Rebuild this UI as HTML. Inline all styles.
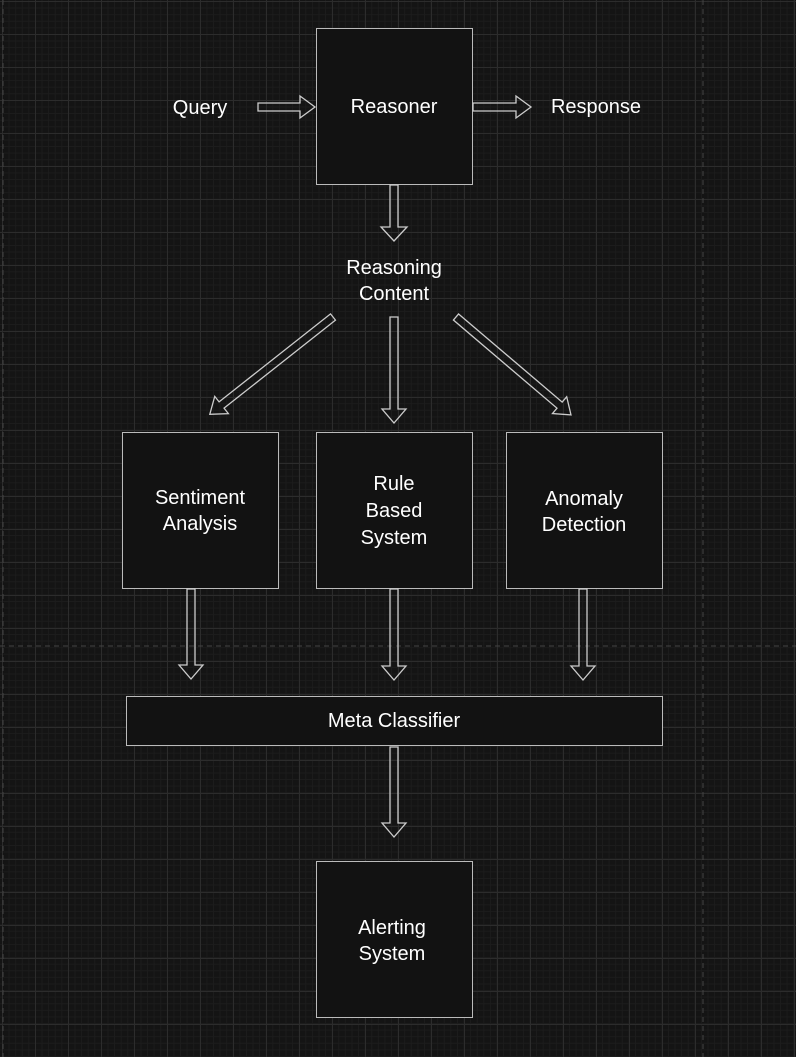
<!DOCTYPE html>
<html><head><meta charset="utf-8"><style>
html,body{margin:0;padding:0}
body{width:796px;height:1057px;overflow:hidden;background:#141414;position:relative;
background-image:
linear-gradient(#2c2c2c 1px,transparent 1px),
linear-gradient(90deg,#2c2c2c 1px,transparent 1px),
linear-gradient(#1c1c1c 1px,transparent 1px),
linear-gradient(90deg,#1c1c1c 1px,transparent 1px);
background-size:33px 33px,33px 33px,6.6px 6.6px,6.6px 6.6px;
background-position:2px 1px,2px 1px,2px 1px,2px 1px;
font-family:"Comic Sans MS","Liberation Sans",sans-serif;color:#fff}
.box{position:absolute;background:#121212;border:1px solid #bbb;box-sizing:border-box}
.t{position:absolute;font-size:20px;text-align:center;line-height:26px;color:#fff;transform:translateX(-50%);white-space:nowrap}
svg{position:absolute;left:0;top:0}
</style></head><body>
<svg width="796" height="1057">
<line x1="3" y1="0" x2="3" y2="1057" stroke="#444" stroke-dasharray="5,4"/>
<line x1="703" y1="0" x2="703" y2="1057" stroke="#444" stroke-dasharray="5,4"/>
<line x1="0" y1="646" x2="796" y2="646" stroke="#444" stroke-dasharray="5,4"/>
</svg>
<div class="box" style="left:316px;top:28px;width:157px;height:157px"></div>
<div class="box" style="left:122px;top:432px;width:157px;height:157px"></div>
<div class="box" style="left:316px;top:432px;width:157px;height:157px"></div>
<div class="box" style="left:506px;top:432px;width:157px;height:157px"></div>
<div class="box" style="left:126px;top:696px;width:537px;height:50px"></div>
<div class="box" style="left:316px;top:861px;width:157px;height:157px"></div>
<svg width="796" height="1057">
<g fill="none" stroke="#ccc" stroke-width="1.3">
<g transform="translate(258,107)"><polygon points="0,-4 42,-4 42,-11 57,0 42,11 42,4 0,4"/></g>
<g transform="translate(473,107)"><polygon points="0,-4 43,-4 43,-11 58,0 43,11 43,4 0,4"/></g>
<g transform="translate(394,185) rotate(90)"><polygon points="0,-4 42,-4 42,-13 56,0 42,13 42,4 0,4"/></g>
<g transform="translate(333,317) rotate(141.7)"><polygon points="0,-4 142,-4 142,-11 157,0 142,11 142,4 0,4"/></g>
<g transform="translate(394,317) rotate(90)"><polygon points="0,-4 92,-4 92,-12 106,0 92,12 92,4 0,4"/></g>
<g transform="translate(456,317) rotate(40.4)"><polygon points="0,-4 136,-4 136,-11 151,0 136,11 136,4 0,4"/></g>
<g transform="translate(191,589) rotate(90)"><polygon points="0,-4 76,-4 76,-12 90,0 76,12 76,4 0,4"/></g>
<g transform="translate(394,589) rotate(90)"><polygon points="0,-4 77,-4 77,-12 91,0 77,12 77,4 0,4"/></g>
<g transform="translate(583,589) rotate(90)"><polygon points="0,-4 77,-4 77,-12 91,0 77,12 77,4 0,4"/></g>
<g transform="translate(394,747) rotate(90)"><polygon points="0,-4 76,-4 76,-12 90,0 76,12 76,4 0,4"/></g>
</g></svg>
<div class="t" style="left:200px;top:95px">Query</div>
<div class="t" style="left:394px;top:94px">Reasoner</div>
<div class="t" style="left:596px;top:94px">Response</div>
<div class="t" style="left:394px;top:255px">Reasoning<br>Content</div>
<div class="t" style="left:200px;top:485px">Sentiment<br>Analysis</div>
<div class="t" style="left:394px;top:471px;line-height:27px">Rule<br>Based<br>System</div>
<div class="t" style="left:584px;top:486px">Anomaly<br>Detection</div>
<div class="t" style="left:394px;top:708px">Meta Classifier</div>
<div class="t" style="left:392px;top:915px">Alerting<br>System</div>
</body></html>
